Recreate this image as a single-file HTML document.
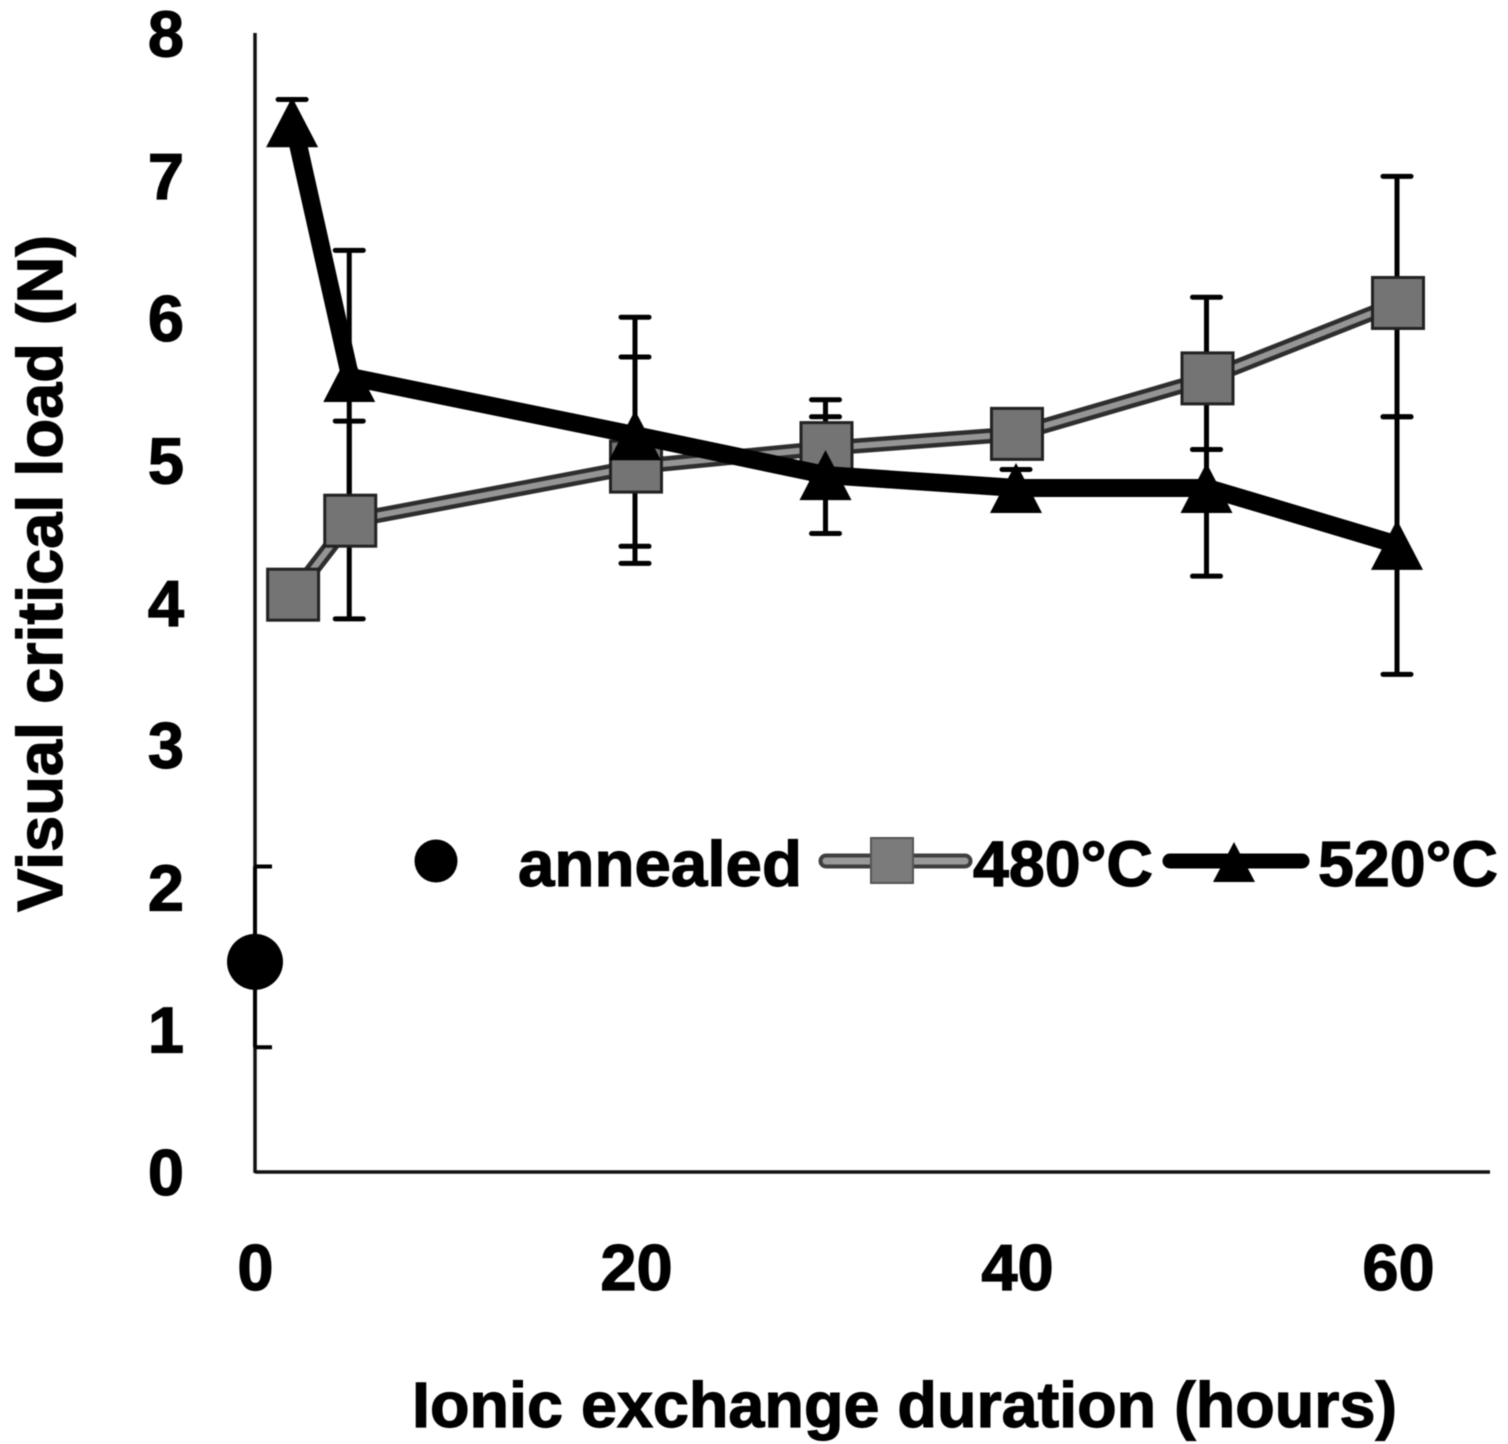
<!DOCTYPE html>
<html>
<head>
<meta charset="utf-8">
<title>Visual critical load vs ionic exchange duration</title>
<style>
html,body{margin:0;padding:0;background:#fff;}
#chart{display:block;width:1508px;height:1444px;filter:blur(0.6px);}
text{font-family:"Liberation Sans",sans-serif;font-weight:bold;fill:#000;stroke:#000;stroke-width:1.2px;}
</style>
</head>
<body>
<svg id="chart" xmlns="http://www.w3.org/2000/svg" width="1508" height="1444" viewBox="0 0 1508 1444">
  <rect width="1508" height="1444" fill="#fff"/>
  <g id="axes"></g>
  <g id="errors"></g>
  <g id="series"></g>
  <text transform="translate(62,912) rotate(-90)" font-size="64" textLength="677" lengthAdjust="spacingAndGlyphs">Visual critical load (N)</text>
  <text x="412" y="1427" font-size="64" textLength="985" lengthAdjust="spacingAndGlyphs">Ionic exchange duration (hours)</text>
  <g>
    <circle cx="436" cy="861" r="21.5" fill="#000"/>
    <text x="518" y="886" font-size="64" textLength="284" lengthAdjust="spacingAndGlyphs">annealed</text>
    <line x1="826" y1="861" x2="965" y2="861" stroke="#3f3f3f" stroke-width="15" stroke-linecap="round"/>
    <line x1="826" y1="861" x2="965" y2="861" stroke="#999" stroke-width="7" stroke-linecap="round"/>
    <rect x="871" y="838" width="42" height="45" fill="#7b7b7b" stroke="#555" stroke-width="2"/>
    <text x="973" y="886" font-size="64" textLength="180" lengthAdjust="spacingAndGlyphs">480°C</text>
    <line x1="1170" y1="861" x2="1302" y2="861" stroke="#000" stroke-width="15" stroke-linecap="round"/>
    <polygon points="1234,842 1255,882 1213,882" fill="#000"/>
    <text x="1318" y="886" font-size="64" textLength="180" lengthAdjust="spacingAndGlyphs">520°C</text>
  </g>
</svg>
<script>
// ---- chart data ----
const xTickLabels = [0, 20, 40, 60];
const yTickLabels = [0, 1, 2, 3, 4, 5, 6, 7, 8];
const durations = [2, 5, 20, 30, 40, 50, 60];
const values480 = [4.05, 4.57, 4.95, 5.08, 5.18, 5.57, 6.1];
const upper480 = [4.05, 5.27, 5.72, 5.42, 5.3, 6.14, 6.99];
const lower480 = [4.05, 3.88, 4.27, 4.85, 5.05, 5.07, 5.3];
const values520 = [7.37, 5.58, 5.17, 4.89, 4.8, 4.8, 4.4];
const upper520 = [7.53, 6.47, 6.0, 5.3, 4.93, 5.07, 5.3];
const lower520 = [7.3, 4.7, 4.39, 4.48, 4.65, 4.18, 3.49];
const annealedDuration = [0];
const annealedValue = [1.47];
const annealedUpper = [2.14];
const annealedLower = [0.87];

// ---- axis functions ----
function xScale(v) { return 255 + v * 19.05; }
function yScale(v) { return 1171 - v * 142.3; }

const NS = 'http://www.w3.org/2000/svg';
function make(tag, parent, props) {
  const el = document.createElementNS(NS, tag);
  for (const k in props) el.setAttribute(k, props[k]);
  parent.appendChild(el);
  return el;
}
const axes = document.getElementById('axes');
const errors = document.getElementById('errors');
const series = document.getElementById('series');

// axes
const yAxis = make('line', axes, {x1: xScale(0), y1: 33, x2: xScale(0), y2: yScale(0) + 2, stroke: '#111', 'stroke-width': 3.5});


const xAxis = make('line', axes, {x1: xScale(0), y1: yScale(0) + 1, x2: 1490, y2: yScale(0) + 1, stroke: '#111', 'stroke-width': 3.5});



yTickLabels.forEach(function (t) {
  const label = make('text', axes, {x: 166, y: yScale(t) + 24, 'font-size': 65, 'text-anchor': 'middle'});
  label.textContent = t;
  
  
});
xTickLabels.forEach(function (t) {
  const label = make('text', axes, {x: xScale(t) + 0.5, y: 1290, 'font-size': 65, 'text-anchor': 'middle'});
  label.textContent = t;
  
  
});

// error bars
function drawError(x, hi, lo, dx) {
  const px = xScale(x) + dx;
  const stem = make('line', errors, {x1: px, y1: yScale(hi), x2: px, y2: yScale(lo), stroke: '#000', 'stroke-width': 5});
  
  
  const capTop = make('line', errors, {x1: px - 14, y1: yScale(hi), x2: px + 14, y2: yScale(hi), stroke: '#000', 'stroke-width': 5, 'stroke-linecap': 'round'});
  
  
  const capBottom = make('line', errors, {x1: px - 14, y1: yScale(lo), x2: px + 14, y2: yScale(lo), stroke: '#000', 'stroke-width': 5, 'stroke-linecap': 'round'});
  
  
}
durations.forEach(function (d, i) {
  if (upper480[i] !== lower480[i]) drawError(d, upper480[i], lower480[i], -1);
  drawError(d, upper520[i], lower520[i], -1);
});

// annealed error bar (caps on the right of the axis)
annealedDuration.forEach(function (d, i) {
  const px = xScale(d);
  const capA = make('line', errors, {x1: px, y1: yScale(annealedUpper[i]), x2: px + 17, y2: yScale(annealedUpper[i]), stroke: '#000', 'stroke-width': 4});
  
  
  const capB = make('line', errors, {x1: px, y1: yScale(annealedLower[i]), x2: px + 17, y2: yScale(annealedLower[i]), stroke: '#000', 'stroke-width': 4});
  
  
  const stem = make('line', errors, {x1: px, y1: yScale(annealedUpper[i]), x2: px, y2: yScale(annealedLower[i]), stroke: '#000', 'stroke-width': 4});
  
  
});

// 480 series
const pts480 = durations.map(function (d, i) { return xScale(d) + ',' + yScale(values480[i]); }).join(' ');
const line480Outer = make('polyline', series, {points: pts480, fill: 'none', stroke: '#2e2e2e', 'stroke-width': 15, 'stroke-linejoin': 'round'});


const line480Inner = make('polyline', series, {points: pts480, fill: 'none', stroke: '#959595', 'stroke-width': 6, 'stroke-linejoin': 'round'});


durations.forEach(function (d, i) {
  const sq = make('rect', series, {x: xScale(d) - 25.5, y: yScale(values480[i]) - 25.5, width: 51, height: 51, fill: '#747474', stroke: '#222', 'stroke-width': 3});
  
  
});

// 520 series
const pts520 = durations.map(function (d, i) { return xScale(d) + ',' + yScale(values520[i]); }).join(' ');
const line520 = make('polyline', series, {points: pts520, fill: 'none', stroke: '#000', 'stroke-width': 18, 'stroke-linejoin': 'round'});


durations.forEach(function (d, i) {
  const cx = xScale(d) - 1;
  const cy = yScale(values520[i]);
  const tri = make('polygon', series, {points: cx + ',' + (cy - 25) + ' ' + (cx + 26) + ',' + (cy + 25) + ' ' + (cx - 26) + ',' + (cy + 25), fill: '#000'});
  
  
});

// annealed point
annealedDuration.forEach(function (d, i) {
  const dot = make('circle', series, {cx: xScale(d), cy: yScale(annealedValue[i]), r: 28, fill: '#000'});
  
  
});
</script>
</body>
</html>
